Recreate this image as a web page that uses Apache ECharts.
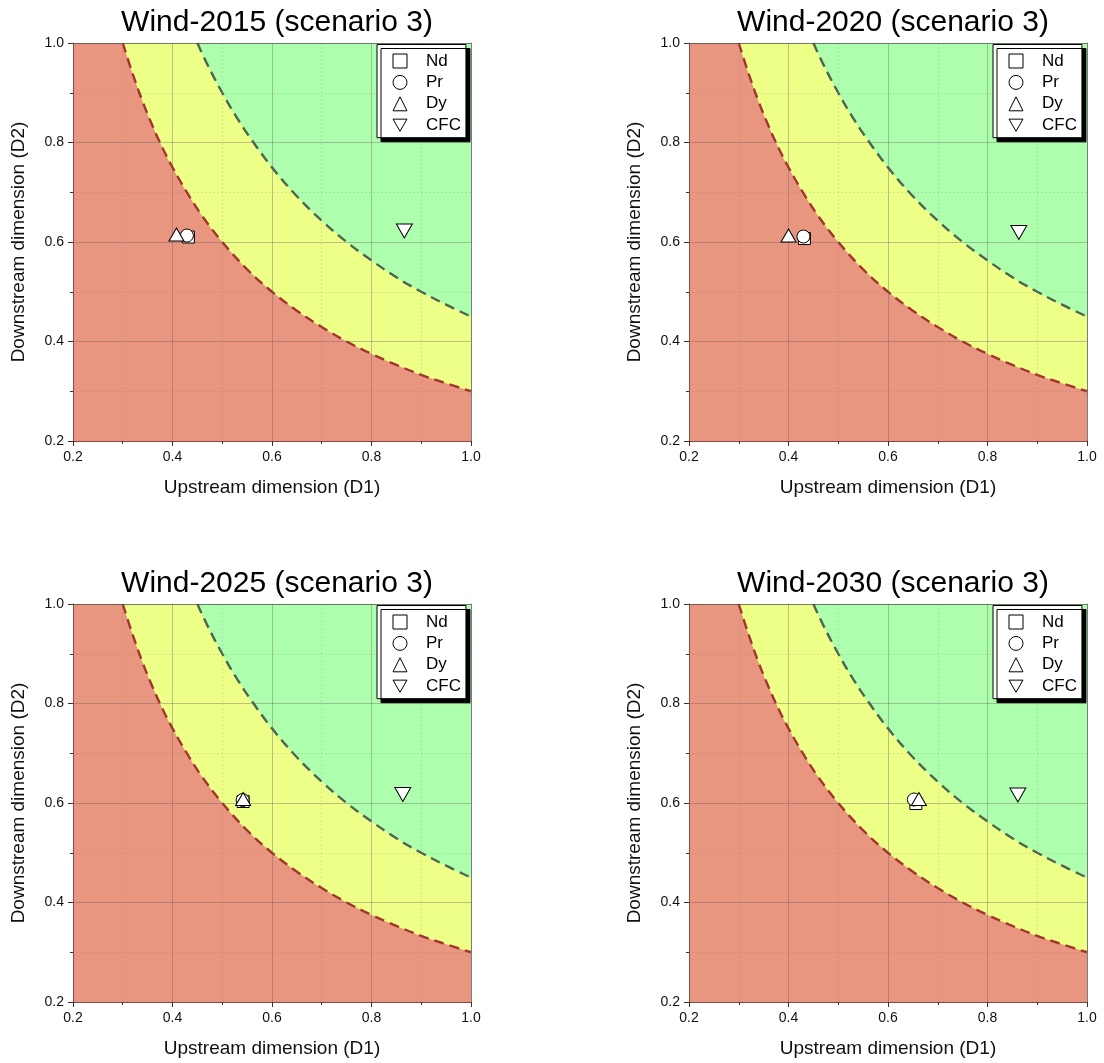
<!DOCTYPE html>
<html><head><meta charset="utf-8">
<script src="https://cdn.jsdelivr.net/npm/echarts@6/dist/echarts.min.js"></script>
<style>html,body{margin:0;padding:0;background:#fff}#main{width:1104px;height:1063px}</style>
</head><body><div id="main"></div>
<script>
// ---- data ----
const titles = ['Wind-2015 (scenario 3)', 'Wind-2020 (scenario 3)', 'Wind-2025 (scenario 3)', 'Wind-2030 (scenario 3)'];
const materials = ['Nd', 'Pr', 'Dy', 'CFC'];
const d1_2015 = [0.432, 0.429, 0.408, 0.866];
const d2_2015 = [0.610, 0.613, 0.615, 0.622];
const d1_2020 = [0.432, 0.430, 0.400, 0.863];
const d2_2020 = [0.607, 0.611, 0.613, 0.619];
const d1_2025 = [0.542, 0.541, 0.542, 0.863];
const d2_2025 = [0.603, 0.606, 0.608, 0.617];
const d1_2030 = [0.656, 0.652, 0.662, 0.861];
const d2_2030 = [0.599, 0.607, 0.608, 0.616];
// boundary between red and yellow zones
const lowerD1 = [0.30, 0.32, 0.34, 0.36, 0.38, 0.40, 0.43, 0.46, 0.50, 0.55, 0.60, 0.65, 0.70, 0.75, 0.80, 0.85, 0.90, 0.95, 1.00];
const lowerD2 = [1.000, 0.938, 0.882, 0.833, 0.789, 0.750, 0.698, 0.652, 0.600, 0.545, 0.500, 0.462, 0.429, 0.400, 0.375, 0.353, 0.333, 0.316, 0.300];
// boundary between yellow and green zones
const upperD1 = [0.45, 0.47, 0.50, 0.53, 0.56, 0.60, 0.65, 0.70, 0.75, 0.80, 0.85, 0.90, 0.95, 1.00];
const upperD2 = [1.000, 0.957, 0.900, 0.849, 0.804, 0.750, 0.692, 0.643, 0.600, 0.563, 0.529, 0.500, 0.474, 0.450];
const tickLabels = ['0.2', '0.4', '0.6', '0.8', '1.0'];

const panelD1 = [d1_2015, d1_2020, d1_2025, d1_2030];
const panelD2 = [d2_2015, d2_2020, d2_2025, d2_2030];

// ---- layout / style ----
const FONT = 'Liberation Sans, Arial, sans-serif';
const gridPos = [
  {left: 73, top: 43}, {left: 689, top: 43},
  {left: 73, top: 604}, {left: 689, top: 604}
];
const GW = 398, GH = 398;
const RED = '#E99681', YELLOW = '#EEFF88', GREEN = '#ADFFAD';
const symbols = ['rect', 'circle', 'triangle', 'path://M0,0L10,0L5,8.66Z'];
const symbolSizes = [12, 13, [15, 13], [16, 14]];

const axMin = parseFloat(tickLabels[0]), axMax = parseFloat(tickLabels[tickLabels.length - 1]);
const axInt = parseFloat(tickLabels[1]) - parseFloat(tickLabels[0]);

const grid = [], xAxis = [], yAxis = [], series = [], title = [], legend = [];

function mainAxis(gi, isX) {
  return {
    type: 'value', gridIndex: gi, min: axMin, max: axMax, interval: axInt, z: 3,
    position: isX ? 'bottom' : 'left',
    name: isX ? 'Upstream dimension (D1)' : 'Downstream dimension (D2)',
    nameLocation: 'middle', nameGap: isX ? 37 : 45,
    nameTextStyle: {fontFamily: FONT, fontSize: 19, color: '#111'},
    axisLine: {show: true, lineStyle: {color: '#8a4a44', width: 1}},
    axisTick: {show: true, inside: false, length: 5, lineStyle: {color: '#333'}},
    minorTick: {show: true, splitNumber: 2, length: 3, lineStyle: {color: '#333'}},
    axisLabel: {fontFamily: FONT, fontSize: 14, color: '#111', margin: 9,
      formatter: v => v.toFixed(1)},
    splitLine: {show: true, lineStyle: {color: 'rgba(110,90,95,0.38)', width: 1}},
    minorSplitLine: {show: true, lineStyle: {color: 'rgba(120,120,120,0.2)', width: 1, type: [2, 2]}}
  };
}
function frameAxis(gi, isX) {
  return {
    type: 'value', gridIndex: gi, min: axMin, max: axMax, interval: axInt, z: 3,
    position: isX ? 'top' : 'right',
    axisLine: {show: true, lineStyle: {color: 'rgba(60,70,60,0.55)', width: 1}},
    axisTick: {show: false}, axisLabel: {show: false}, splitLine: {show: false}
  };
}

for (let i = 0; i < 4; i++) {
  const g = gridPos[i];
  grid.push({left: g.left, top: g.top, width: GW, height: GH, show: true,
    backgroundColor: RED, borderWidth: 0, containLabel: false});
  xAxis.push(mainAxis(i, true), frameAxis(i, true));
  yAxis.push(mainAxis(i, false), frameAxis(i, false));
  title.push({text: titles[i], left: g.left + GW / 2, top: g.top - 43 + 3, textAlign: 'center',
    textStyle: {fontFamily: FONT, fontSize: 30, fontWeight: 'normal', color: '#000'}});
  legend.push({
    data: materials, orient: 'vertical', left: g.left + 304, top: g.top + 1.5,
    itemWidth: 14, itemHeight: 14, itemGap: 4.4, padding: [8, 5, 4, 15.5],
    backgroundColor: '#fff', borderColor: '#000', borderWidth: 1,
    shadowColor: '#000', shadowBlur: 0, shadowOffsetX: 4, shadowOffsetY: 4,
    textStyle: {fontFamily: FONT, fontSize: 17, color: '#000', lineHeight: 17, padding: [0, 0, 0, 14]},
    itemStyle: {color: '#fff', borderColor: '#000', borderWidth: 1},
    selectedMode: false
  });
  const xa = 2 * i, ya = 2 * i;
  series.push({
    type: 'line', xAxisIndex: xa, yAxisIndex: ya, silent: true, z: 2,
    data: lowerD1.map((x, k) => [x, lowerD2[k]]), smooth: 0.4, symbol: 'none',
    lineStyle: {color: '#a3362c', width: 2.4, type: [10, 6]},
    areaStyle: {color: YELLOW, opacity: 1, origin: 'end'}
  });
  series.push({
    type: 'line', xAxisIndex: xa, yAxisIndex: ya, silent: true, z: 2,
    data: upperD1.map((x, k) => [x, upperD2[k]]), smooth: 0.4, symbol: 'none',
    lineStyle: {color: '#4e6650', width: 2.4, type: [10, 6]},
    areaStyle: {color: GREEN, opacity: 1, origin: 'end'}
  });
  for (let m = 0; m < materials.length; m++) {
    series.push({
      type: 'scatter', name: materials[m], xAxisIndex: xa, yAxisIndex: ya, z: 5,
      symbol: symbols[m], symbolSize: symbolSizes[m],
      itemStyle: {color: '#fff', borderColor: '#000', borderWidth: 1, opacity: 1},
      data: [[panelD1[i][m], panelD2[i][m]]]
    });
  }
}

const chart = echarts.init(document.getElementById('main'), null, {renderer: 'canvas'});
chart.setOption({animation: false, backgroundColor: '#fff', title, grid, xAxis, yAxis, legend, series});
</script>
</body></html>
